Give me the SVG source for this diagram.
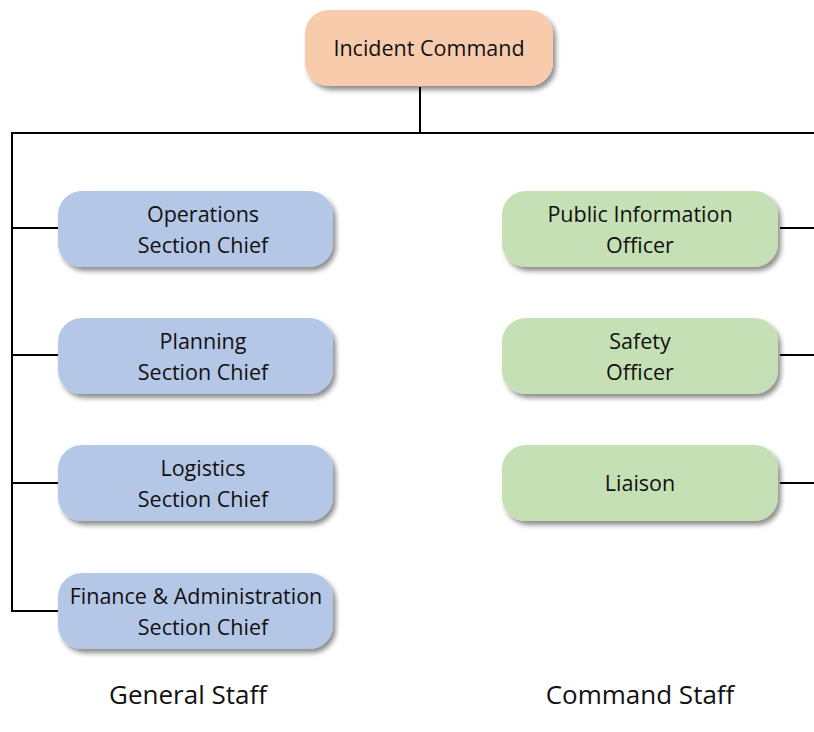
<svg xmlns="http://www.w3.org/2000/svg" width="814" height="732" viewBox="0 0 814 732">
  <defs>
    <filter id="sh" x="-10%" y="-20%" width="125%" height="150%">
      <feGaussianBlur in="SourceAlpha" stdDeviation="2.5"/>
      <feOffset dx="3" dy="4" result="b"/>
      <feComponentTransfer><feFuncA type="linear" slope="0.45"/></feComponentTransfer>
      <feMerge><feMergeNode/><feMergeNode in="SourceGraphic"/></feMerge>
    </filter>
  </defs>
  <style>
    .box { filter: url(#sh); }
    .blue { fill: #b4c7e7; }
    .green { fill: #c5e0b4; }
    .orange { fill: #f8cbad; }
    .t { font-family: "Open Sans", "Noto Sans", sans-serif; font-size: 21.5px; fill: #111; text-anchor: middle; }
    .lbl { font-family: "Open Sans", "Noto Sans", sans-serif; font-size: 26px; fill: #111; text-anchor: middle; }
    .c { stroke: #000; stroke-width: 2; fill: none; }
  </style>
  <rect width="814" height="732" fill="#fff"/>

  <g id="connectors">
    <path class="c" d="M420 87 V133"/>
    <path class="c" d="M12 133 H814"/>
    <path class="c" d="M12 132 V611 H58"/>
    <path class="c" d="M12 228 H58"/>
    <path class="c" d="M12 355 H58"/>
    <path class="c" d="M12 483 H58"/>
    <path class="c" d="M780 228 H814"/>
    <path class="c" d="M780 355 H814"/>
    <path class="c" d="M780 483 H814"/>
  </g>

  <g id="incident-command">
    <rect class="box orange" x="305" y="10" width="248" height="76" rx="24"/>
    <text class="t" x="429" y="56">Incident Command</text>
  </g>

  <g id="operations">
    <rect class="box blue" x="58" y="191" width="275" height="76" rx="24"/>
    <text class="t" x="203" y="222">Operations</text>
    <text class="t" x="203" y="253">Section Chief</text>
  </g>
  <g id="planning">
    <rect class="box blue" x="58" y="318" width="275" height="76" rx="24"/>
    <text class="t" x="203" y="349">Planning</text>
    <text class="t" x="203" y="380">Section Chief</text>
  </g>
  <g id="logistics">
    <rect class="box blue" x="58" y="445" width="275" height="76" rx="24"/>
    <text class="t" x="203" y="476">Logistics</text>
    <text class="t" x="203" y="507">Section Chief</text>
  </g>
  <g id="finance">
    <rect class="box blue" x="58" y="573" width="275" height="76" rx="24"/>
    <text class="t" x="196" y="604">Finance &amp; Administration</text>
    <text class="t" x="203" y="635">Section Chief</text>
  </g>

  <g id="public-information">
    <rect class="box green" x="502" y="191" width="276" height="76" rx="24"/>
    <text class="t" x="640" y="222">Public Information</text>
    <text class="t" x="640" y="253">Officer</text>
  </g>
  <g id="safety">
    <rect class="box green" x="502" y="318" width="276" height="76" rx="24"/>
    <text class="t" x="640" y="349">Safety</text>
    <text class="t" x="640" y="380">Officer</text>
  </g>
  <g id="liaison">
    <rect class="box green" x="502" y="445" width="276" height="76" rx="24"/>
    <text class="t" x="640" y="491">Liaison</text>
  </g>

  <text class="lbl" x="188" y="704">General Staff</text>
  <text class="lbl" x="640" y="704">Command Staff</text>
</svg>
